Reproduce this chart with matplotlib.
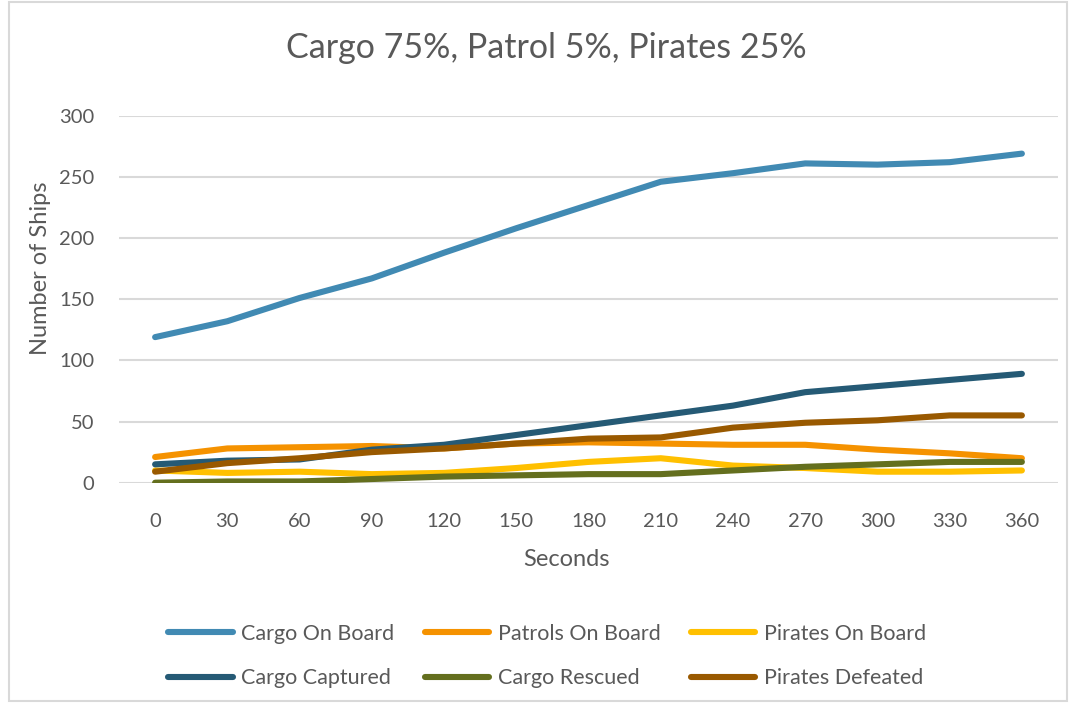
import matplotlib.pyplot as plt
from matplotlib.patches import Rectangle

# seconds on the x axis
seconds = [0, 30, 60, 90, 120, 150, 180, 210, 240, 270, 300, 330, 360]

cargo_on_board = [119, 132, 151, 167, 188, 208, 227, 246, 253, 261, 260, 262, 269]
patrols_on_board = [21, 28, 29, 30, 28, 32, 33, 32, 31, 31, 27, 24, 20]
pirates_on_board = [10, 8, 9, 7, 8, 12, 17, 20, 14, 12, 9, 9, 10]
cargo_captured = [15, 18, 19, 27, 31, 39, 47, 55, 63, 74, 79, 84, 89]
cargo_rescued = [0, 1, 1, 3, 5, 6, 7, 7, 10, 13, 15, 17, 17]
pirates_defeated = [9, 16, 20, 25, 28, 32, 36, 37, 45, 49, 51, 55, 55]

series = [
    ('Cargo On Board', cargo_on_board, '#418AB3'),
    ('Patrols On Board', patrols_on_board, '#F59200'),
    ('Pirates On Board', pirates_on_board, '#FFC000'),
    ('Cargo Captured', cargo_captured, '#255A75'),
    ('Cargo Rescued', cargo_rescued, '#646F1E'),
    ('Pirates Defeated', pirates_defeated, '#995900'),
]

txt = '#595959'
plt.rcParams['font.family'] = ['Lato', 'DejaVu Sans']

fig = plt.figure(figsize=(10.7, 7.03), dpi=100)
fig.patches.append(Rectangle((9 / 1070, 0.003), 1058 / 1070, 0.994, transform=fig.transFigure,
                             fill=False, edgecolor='#d9d9d9', linewidth=1.5))
ax = fig.add_axes([119 / 1070, 1 - 482.7 / 703, 939 / 1070, 367 / 703])

handles = {}
for name, vals, color in series:
    ln, = ax.plot(seconds, vals, color=color, linewidth=4.4, solid_capstyle='round',
                  solid_joinstyle='round', label=name)
    handles[name] = ln

ax.set_xlim(-15, 375)
ax.set_ylim(0, 300)
ax.set_xticks(seconds)
ax.set_xticklabels([str(s) for s in seconds])
ax.set_yticks(range(0, 301, 50))
ax.grid(axis='y', color='#d9d9d9', linewidth=1.5)
ax.set_axisbelow(True)
for s in ax.spines.values():
    s.set_visible(False)
ax.tick_params(axis='both', length=0, labelsize=14.5, labelcolor=txt)
ax.tick_params(axis='x', pad=22)
ax.tick_params(axis='y', pad=18)

ax.set_xlabel('Seconds', fontsize=17, color=txt, va='center')
ax.xaxis.set_label_coords((566 - 119) / 939, -(559 - 482.7) / 367)
ax.set_ylabel('Number of Ships', fontsize=17, color=txt, va='center')
ax.yaxis.set_label_coords((40.7 - 119) / 939, (482.7 - 268.5) / 367)
fig.text(546.5 / 1070, 1 - 48 / 703, 'Cargo 75%, Patrol 5%, Pirates 25%', ha='center', va='center',
         fontsize=24.5, color=txt)

order = ['Cargo On Board', 'Cargo Captured', 'Patrols On Board', 'Cargo Rescued',
         'Pirates On Board', 'Pirates Defeated']
leg = fig.legend([handles[n] for n in order], order, ncol=3, loc='center',
                 bbox_to_anchor=(547 / 1070, 1 - 656 / 703), frameon=False, fontsize=15.5,
                 handlelength=3.0, handletextpad=0.4, columnspacing=1.4, labelspacing=1.14)
for t in leg.get_texts():
    t.set_color(txt)

fig.savefig('out.png', dpi=100)
